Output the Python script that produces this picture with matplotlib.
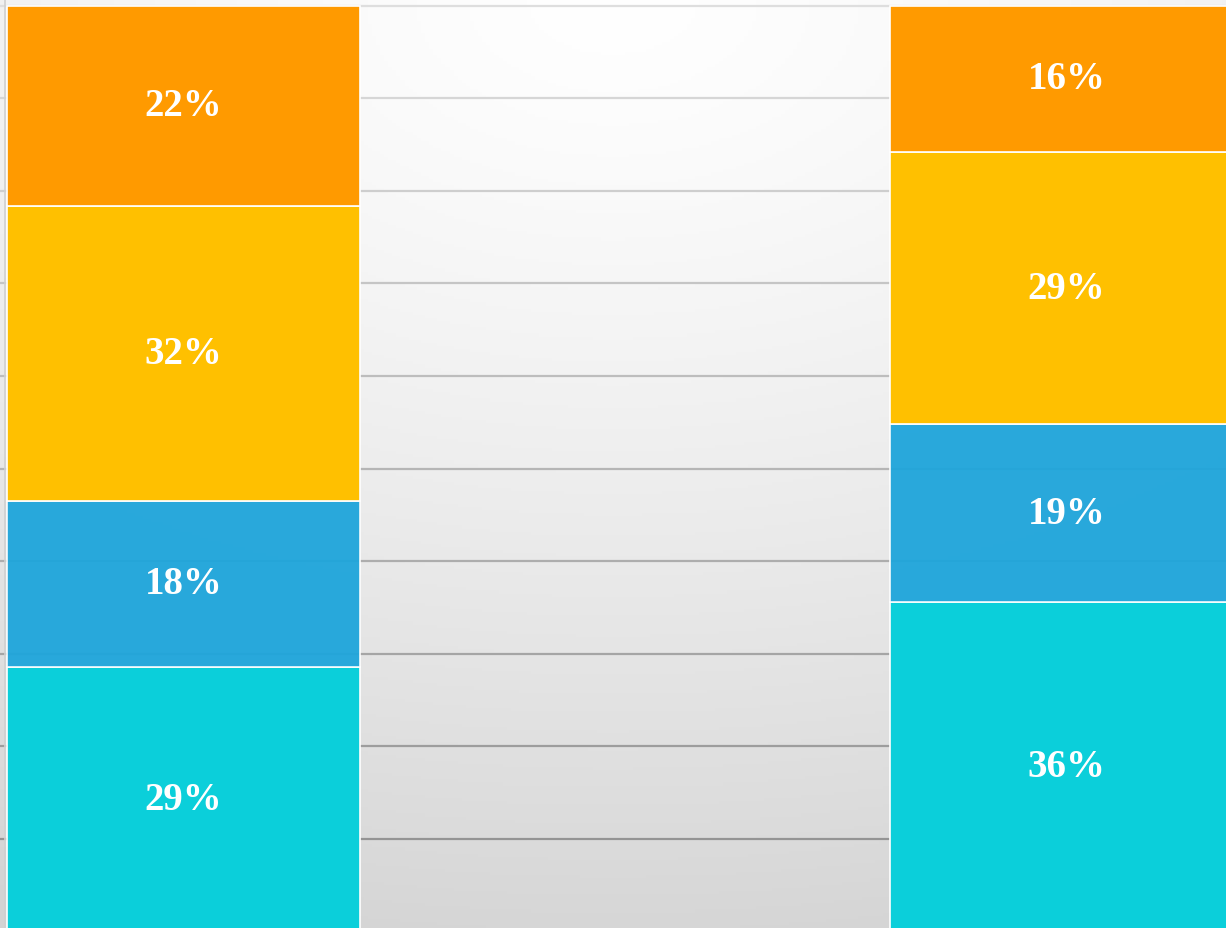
import numpy as np
import matplotlib.pyplot as plt

# data (percent shares, bottom to top)
categories = ["A", "B"]
seg1 = [28.6, 35.6]   # cyan
seg2 = [17.9, 19.2]   # blue
seg3 = [31.9, 29.4]   # yellow
seg4 = [21.6, 15.8]   # orange
labels1 = ["29%", "36%"]
labels2 = ["18%", "19%"]
labels3 = ["32%", "29%"]
labels4 = ["22%", "16%"]

colors = ["#0bcfda", "#1ea5db", "#ffc000", "#ff9a00"]

fig = plt.figure(figsize=(12.26, 9.29), dpi=100)
ax = fig.add_axes([0, 0, 1, 1])

x = np.array([0, 1])
width = 0.4
xlim = (-0.2079, 1.1805)
ylim = (0.40, 100.72)

# background radial gradient
gx, gy = np.meshgrid(np.linspace(0, 1, 300), np.linspace(0, 1, 300))
d = np.sqrt(((gx - 0.5) / 1.2) ** 2 + ((1 - gy) / 1.0) ** 2)
shade = np.clip(1.0 - 0.16 * d ** 1.3, 0.83, 1.0)
bg = np.dstack([shade, shade, shade])
ax.imshow(bg, extent=(xlim[0], xlim[1], ylim[0], ylim[1]), origin="lower",
          aspect="auto", zorder=0)

# gridlines, darker toward the bottom
for v in range(10, 101, 10):
    g = 0.55 + 0.32 * (v / 100)
    ax.axhline(v, color=(g, g, g), lw=1.6, zorder=1)
ax.axvline(xlim[0] + 0.006, color="#d0d0d0", lw=1.2, zorder=1)

segs = [seg1, seg2, seg3, seg4]
labs = [labels1, labels2, labels3, labels4]
bottom = np.zeros(2)
for i, (vals, lab) in enumerate(zip(segs, labs)):
    alpha = 0.95 if i == 1 else 1.0
    bars = ax.bar(x, vals, width, bottom=bottom, color=colors[i], alpha=alpha,
                  edgecolor=(1, 1, 1, 0.5), linewidth=1.2, zorder=2)
    for xi, b, v, t in zip(x, bottom, vals, lab):
        ax.text(xi, b + v / 2, t, ha="center", va="center", color="white",
                fontsize=28, fontweight="bold", family="Liberation Serif", zorder=3)
    bottom = bottom + np.array(vals)

ax.set_xlim(*xlim)
ax.set_ylim(*ylim)
ax.axis("off")

fig.savefig("out.png", dpi=100)
